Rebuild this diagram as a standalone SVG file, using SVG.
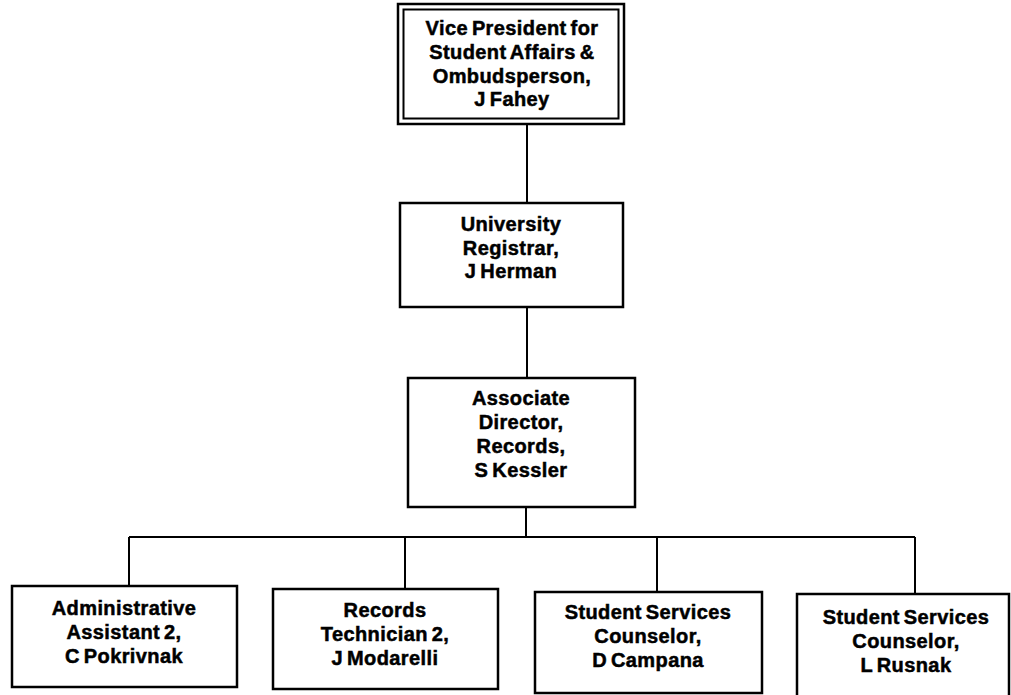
<svg xmlns="http://www.w3.org/2000/svg" width="1011" height="695" viewBox="0 0 1011 695">
<style>
.box{fill:#fff;stroke:#000;stroke-width:2.5}
.in{fill:none;stroke:#000;stroke-width:2}
.ln{fill:none;stroke:#000;stroke-width:2}
text{font-family:"Liberation Sans",Arial,sans-serif;font-weight:bold;font-size:20px;text-anchor:middle;fill:#000;stroke:#000;stroke-width:0.5px;letter-spacing:0.4px;word-spacing:-2px}
</style>
<rect width="1011" height="695" fill="#fff"/>
<g id="connectors">
<path class="ln" d="M527 124V203M527 307V378M526 507V537M129 537H915M129 537V586M405 537V589M657 537V592M915 537V594"/>
</g>
<g id="vp">
<rect class="box" x="398" y="4" width="226" height="120"/>
<rect class="in" x="403.5" y="9.5" width="215" height="109"/>
<text x="512" y="35">Vice President for</text>
<text x="512" y="59">Student Affairs &amp;</text>
<text x="512" y="83">Ombudsperson,</text>
<text x="512" y="106">J Fahey</text>
</g>
<g id="registrar">
<rect class="box" x="400" y="203" width="223" height="104"/>
<text x="511" y="231">University</text>
<text x="511" y="255">Registrar,</text>
<text x="511" y="278">J Herman</text>
</g>
<g id="associate">
<rect class="box" x="408" y="378" width="227" height="129"/>
<text x="521" y="405">Associate</text>
<text x="521" y="429">Director,</text>
<text x="521" y="453">Records,</text>
<text x="521" y="477">S Kessler</text>
</g>
<g id="admin">
<rect class="box" x="12" y="586" width="225" height="101"/>
<text x="124" y="615">Administrative</text>
<text x="124" y="639">Assistant 2,</text>
<text x="124" y="663">C Pokrivnak</text>
</g>
<g id="records">
<rect class="box" x="273" y="589" width="225" height="100"/>
<text x="385" y="617">Records</text>
<text x="385" y="641">Technician 2,</text>
<text x="385" y="665">J Modarelli</text>
</g>
<g id="campana">
<rect class="box" x="535" y="592" width="227" height="101"/>
<text x="648" y="619">Student Services</text>
<text x="648" y="643">Counselor,</text>
<text x="648" y="667">D Campana</text>
</g>
<g id="rusnak">
<rect class="box" x="797" y="594" width="212" height="104"/>
<text x="906" y="624">Student Services</text>
<text x="906" y="648">Counselor,</text>
<text x="906" y="672">L Rusnak</text>
</g>
</svg>
